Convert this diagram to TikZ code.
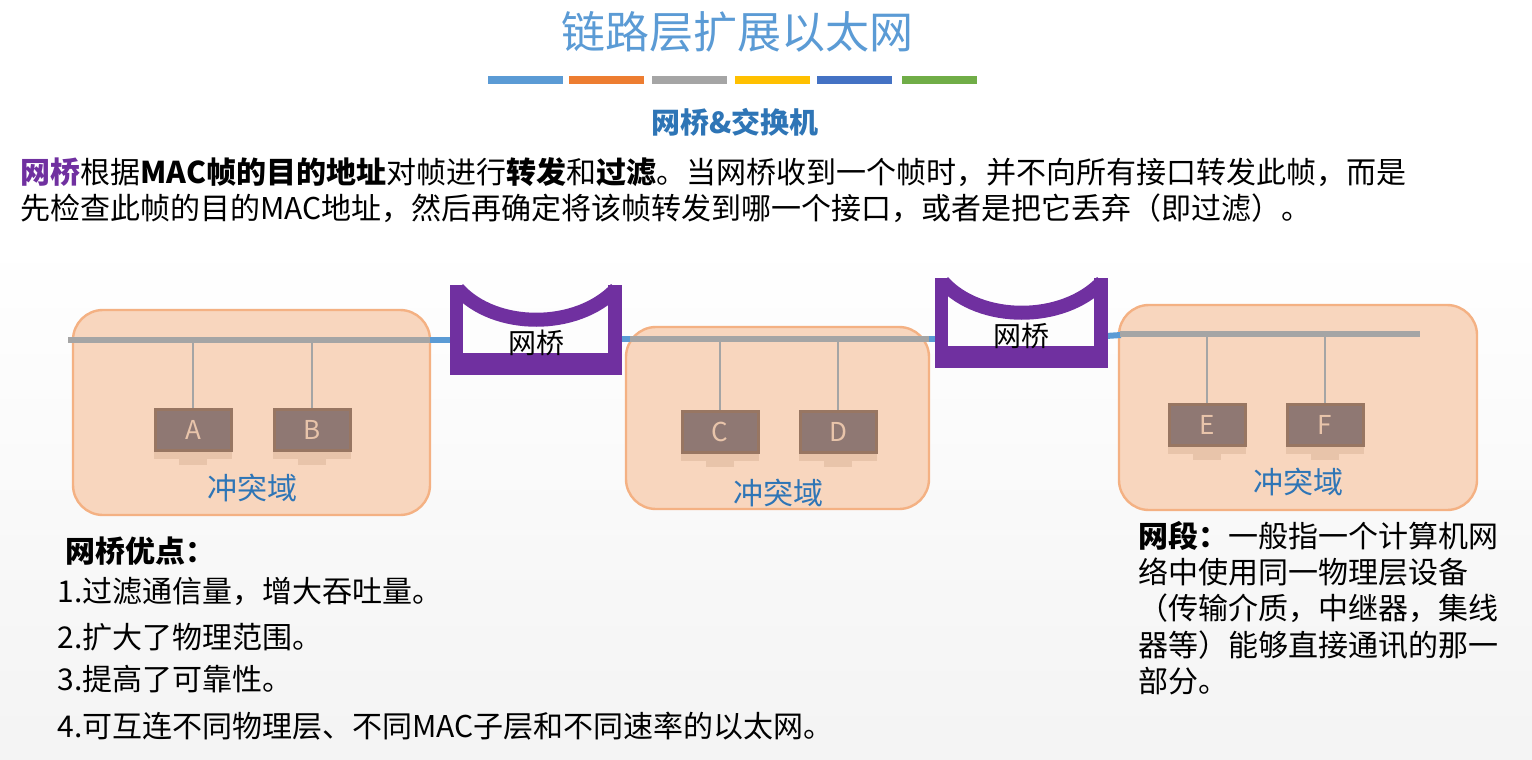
\documentclass[tikz,border=0pt]{standalone}
\usepackage{fontspec}
\setmainfont{Noto Sans CJK SC}
\definecolor{titleblue}{RGB}{91,155,213}
\definecolor{darkblue}{RGB}{46,117,182}
\definecolor{barorange}{RGB}{237,125,49}
\definecolor{bargray}{RGB}{165,165,165}
\definecolor{bargold}{RGB}{255,192,0}
\definecolor{barblue}{RGB}{68,114,196}
\definecolor{bargreen}{RGB}{112,173,71}
\definecolor{bridgepurple}{RGB}{112,48,160}
\definecolor{domainfill}{RGB}{248,214,190}
\definecolor{domainline}{RGB}{244,177,131}
\definecolor{screenfill}{RGB}{143,120,115}
\definecolor{screenline}{RGB}{152,118,98}
\definecolor{standfill}{RGB}{232,196,170}
\tikzset{
  collbox/.style={fill=domainfill,draw=domainline,line width=1.2pt,rounded corners=15pt},
  body/.style={anchor=west,font=\fontsize{15}{17}\selectfont,inner sep=0pt},
  domlabel/.style={text=darkblue,font=\fontsize{15}{17}\selectfont},
  bus/.style={line width=3pt},
  post/.style={fill=bridgepurple},
}
\newcommand{\pc}[3]{% center, name, label
  \fill[standfill] (#1)++(-39,20) rectangle ++(78,9);
  \fill[standfill] (#1)++(-14,29) rectangle ++(28,6);
  \fill[screenfill,draw=screenline,line width=1.5pt] (#1)++(-38,-21) rectangle ++(76,41);
  \node[text=standfill,font=\fontsize{13}{15}\selectfont] (#2) at (#1) {#3};
}
\newcommand{\bridge}[5]{% left x, right x, top y, bottom y, name
  \fill[post] (#1,#3) rectangle ++(13,#4-#3);
  \fill[post] (#2-14,#3) rectangle ++(14,#4-#3);
  \fill[post] (#1,#4-22) rectangle (#2,#4);
  \draw[bridgepurple,line width=7pt] (#1+8,#3+4) .. controls (#1+45,#3+45) and (#2-45,#3+45) .. (#2-6,#3+4);
  \coordinate (#5) at ({(#1+#2)/2},{#4-32});
}
\begin{document}
\begin{tikzpicture}[x=0.5pt,y=-0.5pt]
\useasboundingbox[fill=white] (0,0) rectangle (1532,760);
\shade[top color=white,bottom color=gray!9] (0,240) rectangle (1532,760);
% Titel
\node[text=titleblue,font=\fontsize{22}{25}\selectfont] (title) at (737,32) {链路层扩展以太网};
\foreach \xa/\c in {488/titleblue,569/barorange,652/bargray,735/bargold,817/barblue,902/bargreen}
  \fill[\c] (\xa,76) rectangle ++(75,8);
\node[text=darkblue,font=\bfseries\fontsize{14.5}{17}\selectfont] (sub) at (735,122) {网桥\&交换机};
% Text
\node[body] (l1) at (20,172) {\textcolor{bridgepurple}{\bfseries 网桥}根据\textbf{MAC帧的目的地址}对帧进行\textbf{转发}和\textbf{过滤}。当网桥收到一个帧时，并不向所有接口转发此帧，而是};
\node[body] (l2) at (20,208) {先检查此帧的目的MAC地址，然后再确定将该帧转发到哪一个接口，或者是把它丢弃（即过滤）。};
% Kollisionsbereiche
\draw[collbox] (73,310) rectangle (430,515);
\draw[collbox] (626,327) rectangle (929,509);
\draw[collbox] (1119,305) rectangle (1477,510);
% Bus
\draw[bus,titleblue] (68,340) -- (73,340);
\draw[bus,titleblue] (430,340) -- (452,340);
\draw[bus,titleblue] (620,339) -- (630,339);
\draw[bus,titleblue] (929,339) -- (937,339);
\draw[bus,titleblue] (1106,336) -- (1121,335);
\draw[bus,bargray] (68,340) -- (430,340);
\draw[bus,bargray] (630,339) -- (929,339);
\draw[bus,bargray] (1120,334) -- (1420,334);
% Bruecken
\bridge{450}{622}{285}{375}{b1}
\bridge{935}{1108}{278}{368}{b2}
\node[font=\fontsize{14}{16}\selectfont] at (b1) {网桥};
\node[font=\fontsize{14}{16}\selectfont] at (b2) {网桥};
% Rechner
\foreach \x/\y/\n/\b in {193/340/A/430,312/340/B/430,720/339/C/432,838/339/D/432,1207/334/E/425,1325/334/F/425}{
  \draw[bargray,line width=1pt] (\x,\y) -- (\x,\b-21);
  \pc{\x,\b}{\n}{\n}
}
\node[domlabel] (d1) at (252,488) {冲突域};
\node[domlabel] (d2) at (778,493) {冲突域};
\node[domlabel] (d3) at (1298,482) {冲突域};
% Vorteile
\node[body,font=\bfseries\fontsize{15}{17}\selectfont] (adv) at (65,551) {网桥优点：};
\node[body] (a1) at (57,591) {1.过滤通信量，增大吞吐量。};
\node[body] (a2) at (57,637) {2.扩大了物理范围。};
\node[body] (a3) at (57,679) {3.提高了可靠性。};
\node[body] (a4) at (57,726) {4.可互连不同物理层、不同MAC子层和不同速率的以太网。};
% Netzsegment
\foreach \t [count=\i] in {{\textbf{网段：}一般指一个计算机网},{络中使用同一物理层设备},{（传输介质，中继器，集线},{器等）能够直接通讯的那一},{部分。}}
  \node[body] (s\i) at (1138,{536+36.3*(\i-1)}) {\t};
\end{tikzpicture}
\end{document}
